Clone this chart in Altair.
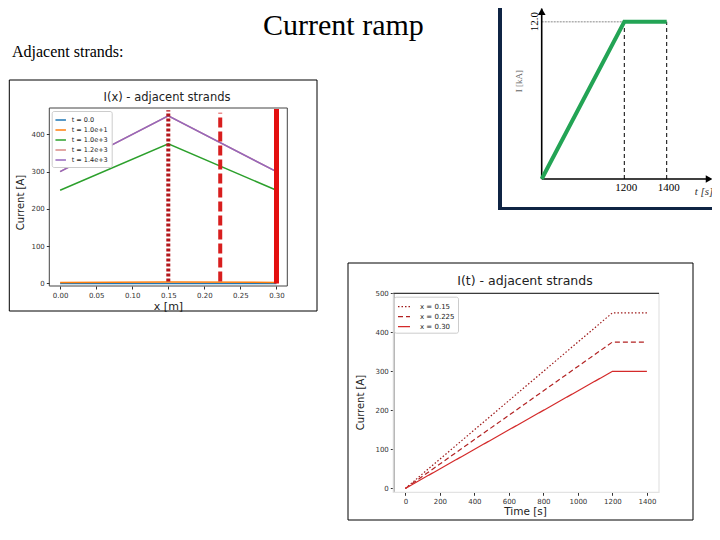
import altair as alt
import pandas as pd

W, H = 704, 524          # chart area (page minus 8px margins)
MPL = "DejaVu Sans"
SERIF = "Liberation Serif"

# ---------------- data: left panel  I(x) - adjacent strands ----------------
x_pos = [0.0, 0.15, 0.30]
t_labels = ["t = 0.0", "t = 1.0e+1", "t = 1.0e+3", "t = 1.2e+3", "t = 1.4e+3"]
I_t0 = [0, 0, 0]
I_t10 = [2.5, 3.75, 2.5]
I_t1000 = [250, 375, 250]
I_t1200 = [300, 450, 300]
I_t1400 = [300, 450, 300]
left_xdom = [-0.015, 0.315]
left_ydom = [-7, 471]
left_xticks = [0.0, 0.05, 0.10, 0.15, 0.20, 0.25, 0.30]
left_yticks = [0, 100, 200, 300, 400]
vline_x = [0.15, 0.222, 0.30]
vline_y0 = [5, 5, 0]
vline_y1 = [465, 458, 468]

# ---------------- data: bottom panel  I(t) - adjacent strands ----------------
time_s = [0, 1200, 1400]
x_labels = ["x = 0.15", "x = 0.225", "x = 0.30"]
I_x015 = [0, 450, 450]
I_x0225 = [0, 375, 375]
I_x030 = [0, 300, 300]
bot_xdom = [-70, 1470]
bot_ydom = [-10, 500]
bot_xticks = [0, 200, 400, 600, 800, 1000, 1200, 1400]
bot_yticks = [0, 100, 200, 300, 400, 500]

# ---------------- data: top-right sketch  current ramp ----------------
ramp_t = [0, 1200, 1400]
ramp_I = [0, 12.0, 12.0]
ramp_marks = [1200, 1400]
ramp_tick_labels = ["1200", "1400"]
ramp_level = 12.0
ramp_axis_t = [0, 1600]
ramp_axis_I = [0, 13.0]

# ---------------- styles ----------------
t_colors = ["#1f77b4", "#ff7f0e", "#2ca02c", "#d98a86", "#9467bd"]
t_widths = [1.5, 1.5, 1.2, 1.0, 2.0]
vline_colors = ["#b3161c", "#d81e1e", "#e30f0f"]
vline_dash = [[3, 2], [10, 4], [1, 0]]
vline_width = [4, 4, 5]
x_colors = ["#9e1b1b", "#b22222", "#d42a2a"]
x_dash = [[1.5, 2], [5, 3], [1, 0]]
green = "#23a455"
navy = "#0f2444"

ax_common = dict(grid=False, labelFont=MPL, labelFontSize=7, labelColor="#333",
                 tickColor="#333", tickSize=3, labelPadding=2, titleFont=MPL,
                 titleFontWeight="normal", titleColor="#222", labelOverlap=False)

# =============== left panel ===============
left_df = pd.DataFrame(
    [{"t": lab, "x": xv, "I": iv}
     for lab, vals in zip(t_labels, [I_t0, I_t10, I_t1000, I_t1200, I_t1400])
     for xv, iv in zip(x_pos, vals)]
)
def xs_left():
    return alt.Scale(domain=left_xdom, range=[41.3, 279.3], nice=False, zero=False)
def ys_left():
    return alt.Scale(domain=left_ydom, range=[278, 100], nice=False, zero=False)

left_xaxis = alt.Axis(orient="bottom", offset=278 - H, values=left_xticks, format=".2f",
                      domain=False, title="x [m]", titleFontSize=11, titleX=160, titleY=20,
                      titleBaseline="middle", **ax_common)
left_yaxis = alt.Axis(orient="left", offset=-41.3, values=left_yticks, domain=False,
                      title="Current [A]", titleFontSize=10, titleX=-29.3, titleY=194,
                      titleAngle=270, titleBaseline="middle", titleAlign="center", **ax_common)

left_frame_df = pd.DataFrame([{"x0": left_xdom[0], "x1": left_xdom[1],
                               "y0": left_ydom[0], "y1": left_ydom[1]}])
left_box = alt.Chart(left_frame_df).mark_rect(fillOpacity=0, stroke="#444", strokeWidth=1).encode(
    x=alt.X("x0:Q", scale=xs_left(), axis=None), x2="x1:Q",
    y=alt.Y("y0:Q", scale=ys_left(), axis=None), y2="y1:Q")

left_lines = alt.Chart(left_df).mark_line().encode(
    x=alt.X("x:Q", scale=xs_left(), axis=left_xaxis),
    y=alt.Y("I:Q", scale=ys_left(), axis=left_yaxis),
    color=alt.Color("t:N", scale=alt.Scale(domain=t_labels, range=t_colors),
                    legend=alt.Legend(title=None, orient="none", legendX=43.7, legendY=103,
                                      symbolType="stroke", symbolSize=110, symbolStrokeWidth=1.5,
                                      labelFont=MPL, labelFontSize=6.5, labelColor="#222",
                                      labelOffset=5, rowPadding=-6.5, padding=3,
                                      fillColor="white", strokeColor="#cccccc", cornerRadius=2)),
    strokeWidth=alt.StrokeWidth("t:N", scale=alt.Scale(domain=t_labels, range=t_widths), legend=None),
)

left_vlines = []
for i in range(3):
    d = pd.DataFrame([{"x": vline_x[i], "y0": vline_y0[i], "y1": vline_y1[i]}])
    left_vlines.append(
        alt.Chart(d).mark_rule(color=vline_colors[i], strokeDash=vline_dash[i],
                               strokeWidth=vline_width[i]).encode(
            x=alt.X("x:Q", scale=xs_left(), axis=None),
            y=alt.Y("y0:Q", scale=ys_left(), axis=None), y2="y1:Q"))

# =============== bottom panel ===============
bot_df = pd.DataFrame(
    [{"s": lab, "t": tv, "I": iv}
     for lab, vals in zip(x_labels, [I_x015, I_x0225, I_x030])
     for tv, iv in zip(time_s, vals)]
)
def xs_bot():
    return alt.Scale(domain=bot_xdom, range=[385.3, 651], nice=False, zero=False)
def ys_bot():
    return alt.Scale(domain=bot_ydom, range=[484.3, 285.3], nice=False, zero=False)

bot_xaxis = alt.Axis(orient="bottom", offset=484.3 - H, values=bot_xticks, format="d",
                     domain=False, title="Time [s]", titleFontSize=10.5, titleX=517, titleY=19,
                     titleBaseline="middle", **ax_common)
bot_yaxis = alt.Axis(orient="left", offset=-385.3, values=bot_yticks, format="d", domain=True,
                     domainColor="#111", title="Current [A]", titleFontSize=10,
                     titleX=-33.3, titleY=394, titleAngle=270, titleBaseline="middle",
                     titleAlign="center", **ax_common)

bot_frame_df = pd.DataFrame([{"x0": bot_xdom[0], "x1": bot_xdom[1],
                              "y0": bot_ydom[0], "y1": bot_ydom[1]}])
bot_box = alt.Chart(bot_frame_df).mark_rect(fillOpacity=0, stroke="#e3e3e3", strokeWidth=1.2).encode(
    x=alt.X("x0:Q", scale=xs_bot(), axis=None), x2="x1:Q",
    y=alt.Y("y0:Q", scale=ys_bot(), axis=None), y2="y1:Q")
bot_top = alt.Chart(bot_frame_df).mark_rule(color="#111", strokeWidth=1).encode(
    x=alt.X("x0:Q", scale=xs_bot(), axis=None), x2="x1:Q",
    y=alt.Y("y1:Q", scale=ys_bot(), axis=None))

bot_leg = alt.Legend(title=None, orient="none", legendX=386, legendY=288.7,
                     symbolType="stroke", symbolSize=144, symbolStrokeWidth=1.2,
                     labelFont=MPL, labelFontSize=7, labelColor="#222", labelOffset=9,
                     rowPadding=-2, padding=3, fillColor="white", strokeColor="#cccccc",
                     cornerRadius=2)
bot_lines = alt.Chart(bot_df).mark_line(strokeWidth=1.2).encode(
    x=alt.X("t:Q", scale=xs_bot(), axis=bot_xaxis),
    y=alt.Y("I:Q", scale=ys_bot(), axis=bot_yaxis),
    color=alt.Color("s:N", scale=alt.Scale(domain=x_labels, range=x_colors), legend=bot_leg),
    strokeDash=alt.StrokeDash("s:N", scale=alt.Scale(domain=x_labels, range=x_dash), legend=bot_leg),
)

# =============== top-right sketch ===============
def xs_tr():
    return alt.Scale(domain=[0, 1200, 1400], range=[533.7, 616.3, 658.7], nice=False, zero=False)
def ys_tr():
    return alt.Scale(domain=[0, 12], range=[171, 13.7], nice=False, zero=False)

ramp_df = pd.DataFrame({"t": ramp_t, "I": ramp_I})
tr_green = alt.Chart(ramp_df).mark_line(color=green, strokeWidth=4).encode(
    x=alt.X("t:Q", scale=xs_tr(), axis=None), y=alt.Y("I:Q", scale=ys_tr(), axis=None))

level_df = pd.DataFrame([{"t0": ramp_t[0], "t1": ramp_marks[0], "I": ramp_level}])
tr_level = alt.Chart(level_df).mark_rule(color="#b0b0b0", strokeDash=[2, 1], strokeWidth=1.5).encode(
    x=alt.X("t0:Q", scale=xs_tr(), axis=None), x2="t1:Q",
    y=alt.Y("I:Q", scale=ys_tr(), axis=None))

marks_df = pd.DataFrame({"t": ramp_marks, "lab": ramp_tick_labels,
                         "I0": [0, 0], "I1": [ramp_level, ramp_level]})
tr_dash = alt.Chart(marks_df).mark_rule(color="black", strokeDash=[4, 3], strokeWidth=1).encode(
    x=alt.X("t:Q", scale=xs_tr(), axis=None),
    y=alt.Y("I0:Q", scale=ys_tr(), axis=None), y2="I1:Q")
tr_ticklab = alt.Chart(marks_df).mark_text(font=SERIF, fontSize=11, dy=9, dx=2, baseline="middle").encode(
    x=alt.X("t:Q", scale=xs_tr(), axis=None),
    y=alt.Y("I0:Q", scale=ys_tr(), axis=None), text="lab:N")

axis_df = pd.DataFrame([{"t0": ramp_axis_t[0], "t1": ramp_axis_t[1],
                         "I0": ramp_axis_I[0], "I1": ramp_axis_I[1]}])
tr_xax = alt.Chart(axis_df).mark_rule(color="black", strokeWidth=1.6).encode(
    x=alt.X("t0:Q", scale=xs_tr(), axis=None), x2="t1:Q",
    y=alt.Y("I0:Q", scale=ys_tr(), axis=None))
tr_yax = alt.Chart(axis_df).mark_rule(color="black", strokeWidth=1.6).encode(
    x=alt.X("t0:Q", scale=xs_tr(), axis=None),
    y=alt.Y("I0:Q", scale=ys_tr(), axis=None), y2="I1:Q")
tr_xhead = alt.Chart(axis_df).mark_point(shape="triangle-right", filled=True, color="black",
                                         size=60, opacity=1).encode(
    x=alt.X("t1:Q", scale=xs_tr(), axis=None), y=alt.Y("I0:Q", scale=ys_tr(), axis=None))
tr_yhead = alt.Chart(axis_df).mark_point(shape="triangle-up", filled=True, color="black",
                                         size=60, opacity=1, yOffset=3).encode(
    x=alt.X("t0:Q", scale=xs_tr(), axis=None), y=alt.Y("I1:Q", scale=ys_tr(), axis=None))

lvl_lab_df = pd.DataFrame([{"I": ramp_level, "lab": "12.0"}])
tr_lvllab = alt.Chart(lvl_lab_df).mark_text(font=SERIF, fontSize=11, angle=270,
                                            baseline="middle", align="center").encode(
    x=alt.value(527), y=alt.Y("I:Q", scale=ys_tr(), axis=None), text="lab:N")

# =============== slide decorations & texts ===============
one = pd.DataFrame([{"k": 0}])

def box(x, x2, y, y2, stroke="black", sw=1):
    return alt.Chart(one).mark_rect(fillOpacity=0, stroke=stroke, strokeWidth=sw).encode(
        x=alt.value(x), x2=alt.value(x2), y=alt.value(y), y2=alt.value(y2))

def bar(x, x2, y, y2, color):
    return alt.Chart(one).mark_rect(color=color).encode(
        x=alt.value(x), x2=alt.value(x2), y=alt.value(y), y2=alt.value(y2))

def text(s, x, y, **kw):
    return alt.Chart(pd.DataFrame([{"s": s}])).mark_text(**kw).encode(
        x=alt.value(x), y=alt.value(y), text="s:N")

deco = [
    box(1.3, 309, 72, 303),
    box(340, 685, 255, 512),
    bar(490, 494, 0, 202, navy),
    bar(490, 704, 199, 202, navy),
    text("Current ramp", 255, 27, font=SERIF, fontSize=30, align="left", baseline="alphabetic", color="black"),
    text("Adjacent strands:", 4, 49, font=SERIF, fontSize=16, align="left", baseline="alphabetic", color="black"),
    text("I(x) - adjacent strands", 159, 90, font=MPL, fontSize=11.5, align="center", baseline="middle", color="#222"),
    text("I(t) - adjacent strands", 517, 273, font=MPL, fontSize=12.5, align="center", baseline="middle", color="#222"),
    text("t [s]", 696, 184, font=SERIF, fontSize=11, fontStyle="italic", align="center", baseline="middle", color="#333"),
    text("I [kA]", 511, 73, font=SERIF, fontSize=9, angle=270, align="center", baseline="middle", color="#666"),
]

layers = deco + [left_box, left_lines] + left_vlines + [bot_box, bot_top, bot_lines] + [
    tr_level, tr_dash, tr_xax, tr_yax, tr_xhead, tr_yhead, tr_green, tr_ticklab, tr_lvllab]

chart = alt.layer(*layers).resolve_scale(
    x="independent", y="independent", color="independent",
    strokeDash="independent", strokeWidth="independent"
).properties(
    width=W, height=H, autosize=alt.AutoSizeParams(type="none"), padding=0,
    background="white"
).configure_view(stroke=None)

chart.save("out.html", embed_options={"renderer": "svg", "actions": False})
